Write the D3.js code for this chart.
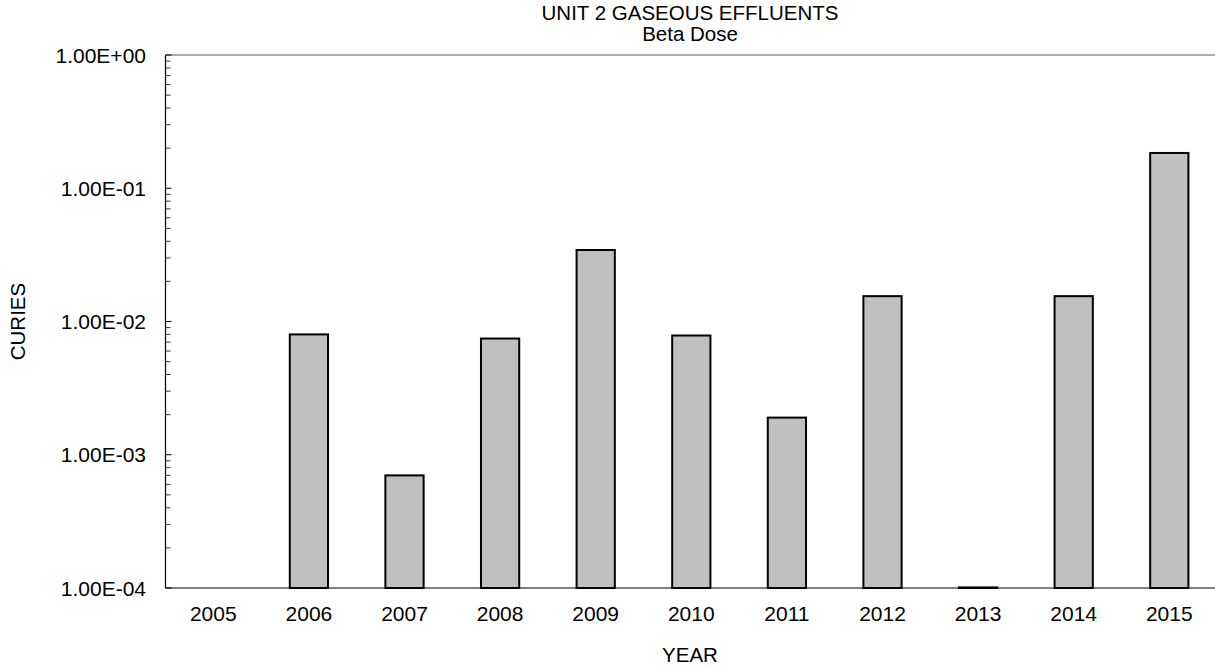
<!DOCTYPE html>
<html><head><meta charset="utf-8">
<script src="https://cdn.jsdelivr.net/npm/d3@7"></script>
<style>body{margin:0;background:#fff}svg{display:block}text{font-family:"Liberation Sans",Arial,sans-serif;fill:#000}</style>
</head><body><svg id="c" width="1215" height="669"></svg>
<script>
const years = ["2005","2006","2007","2008","2009","2010","2011","2012","2013","2014","2015"];
const curies = [null, 8.0e-3, 7.0e-4, 7.45e-3, 3.44e-2, 7.85e-3, 1.9e-3, 1.55e-2, 1.01e-4, 1.55e-2, 1.84e-1];
const yTicks = [1e-4, 1e-3, 1e-2, 1e-1, 1e0];
const yTickLabels = ["1.00E-04","1.00E-03","1.00E-02","1.00E-01","1.00E+00"];
const titleLines = ["UNIT 2 GASEOUS EFFLUENTS","Beta Dose"];

const svg = d3.select("#c");
const L = 165.5, T = 55, B = 588, step = 95.6;
const x = d3.scaleBand().domain(years).range([L, L + step*years.length]).paddingInner(0.6).paddingOuter(0.3);
const y = d3.scaleLog().domain([1e-4, 1]).range([B, T]);

// top border
svg.append("line").attr("x1", L).attr("x2", 1215).attr("y1", T).attr("y2", T).attr("stroke", "#555").attr("stroke-width", 1);

// bars
svg.append("g").selectAll("rect").data(years.map((d,i)=>({yr:d,v:curies[i]})).filter(d=>d.v!=null))
  .join("rect")
  .attr("x", d => x(d.yr))
  .attr("width", x.bandwidth())
  .attr("y", d => y(d.v))
  .attr("height", d => Math.max(0, B - y(d.v)))
  .attr("fill", "#c0c0c0").attr("stroke", "#000").attr("stroke-width", 2);

// x axis line
svg.append("line").attr("x1", L).attr("x2", 1215).attr("y1", B).attr("y2", B).attr("stroke", "#000").attr("stroke-width", 1.2);

// x tick labels
svg.append("g").selectAll("text").data(years).join("text")
  .attr("x", d => x(d) + x.bandwidth()/2).attr("y", 621)
  .attr("text-anchor", "middle").attr("font-size", 21).text(d => d);

// y axis
const minor = [];
for (let e = -4; e < 0; e++) for (let k = 2; k <= 9; k++) minor.push(k * Math.pow(10, e));
const ya = svg.append("g");
ya.append("line").attr("x1", L).attr("x2", L).attr("y1", T).attr("y2", B).attr("stroke", "#000").attr("stroke-width", 1.2);
ya.selectAll("line.mn").data(minor).join("line").attr("class","mn")
  .attr("x1", L).attr("x2", L + 5).attr("y1", d => y(d)).attr("y2", d => y(d)).attr("stroke", "#333").attr("stroke-width", 1);
ya.selectAll("line.mj").data(yTicks).join("line").attr("class","mj")
  .attr("x1", L).attr("x2", L + 6).attr("y1", d => y(d)).attr("y2", d => y(d)).attr("stroke", "#000").attr("stroke-width", 1);
ya.selectAll("text").data(yTicks).join("text")
  .attr("x", 146).attr("y", d => y(d) + 7.5)
  .attr("text-anchor", "end").attr("font-size", 21).text((d,i) => yTickLabels[i]);

// titles
svg.append("g").selectAll("text").data(titleLines).join("text")
  .attr("x", 690).attr("y", (d,i) => 19.5 + i*21).attr("text-anchor", "middle").attr("font-size", 20.5).text(d => d);
svg.append("text").attr("x", 690).attr("y", 662).attr("text-anchor", "middle").attr("font-size", 20.5).text("YEAR");
svg.append("text").attr("transform", "translate(25,321.5) rotate(-90)").attr("text-anchor", "middle").attr("font-size", 20.5).text("CURIES");
</script></body></html>
